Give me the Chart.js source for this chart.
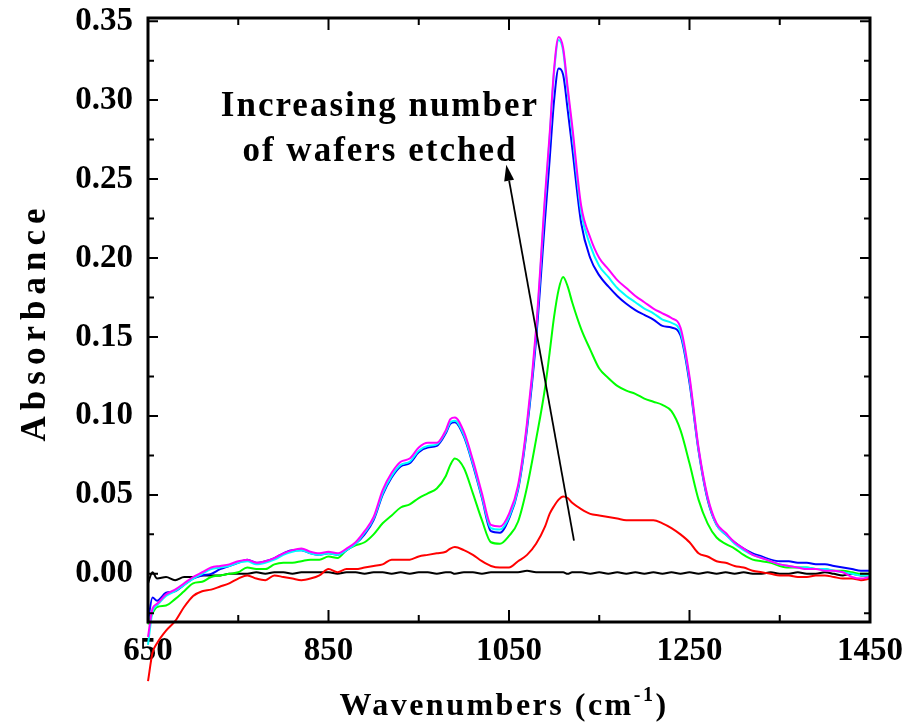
<!DOCTYPE html>
<html>
<head>
<meta charset="utf-8">
<script src="https://cdn.jsdelivr.net/npm/chart.js@4"></script>
<style>
  body { margin: 0; background: #fff; }
  canvas { display: block; }
</style>
</head>
<body>
<canvas id="irChart" width="919" height="724"></canvas>
<script>
// wavenumbers (cm-1) shared by all spectra
const wavenumbers = [650, 655, 660, 670, 680, 690, 700, 710, 720, 730, 740, 750, 760, 770, 780, 790, 800, 810, 820, 830,
  840, 850, 860, 870, 880, 890, 900, 910, 920, 930, 940, 950, 960, 970, 980, 985, 990, 1000, 1010, 1020,
  1030, 1040, 1050, 1060, 1070, 1080, 1090, 1095, 1100, 1105, 1110, 1115, 1120, 1130, 1140, 1150, 1160, 1170, 1180, 1190,
  1200, 1210, 1220, 1230, 1240, 1250, 1260, 1270, 1280, 1290, 1300, 1310, 1320, 1330, 1340, 1350, 1360, 1370, 1380, 1390,
  1400, 1410, 1420, 1430, 1440, 1450];

const magentaAbs = [-0.040, -0.022, -0.019, -0.013, -0.010, -0.006, -0.002, 0.001, 0.004, 0.005, 0.006, 0.008, 0.009, 0.007, 0.008, 0.010, 0.013, 0.015, 0.016, 0.014,
  0.013, 0.014, 0.013, 0.016, 0.020, 0.027, 0.036, 0.053, 0.064, 0.071, 0.073, 0.080, 0.083, 0.083, 0.091, 0.098, 0.099, 0.090, 0.072, 0.051,
  0.031, 0.030, 0.038, 0.056, 0.096, 0.155, 0.240, 0.278, 0.320, 0.340, 0.333, 0.308, 0.284, 0.233, 0.213, 0.200, 0.193, 0.186, 0.181, 0.176,
  0.172, 0.168, 0.165, 0.162, 0.156, 0.125, 0.080, 0.049, 0.032, 0.026, 0.020, 0.016, 0.012, 0.010, 0.008, 0.006, 0.005, 0.004, 0.003, 0.003,
  0.002, 0.002, 0.001, -0.002, -0.003, -0.002];

const cyanAbs = [-0.045, -0.024, -0.020, -0.014, -0.011, -0.007, -0.003, 0.000, 0.003, 0.004, 0.005, 0.007, 0.008, 0.006, 0.007, 0.009, 0.012, 0.014, 0.015, 0.013,
  0.012, 0.013, 0.012, 0.015, 0.019, 0.026, 0.035, 0.051, 0.062, 0.069, 0.071, 0.078, 0.081, 0.082, 0.090, 0.096, 0.097, 0.088, 0.070, 0.049,
  0.029, 0.028, 0.036, 0.054, 0.094, 0.153, 0.237, 0.276, 0.318, 0.338, 0.331, 0.305, 0.280, 0.229, 0.208, 0.195, 0.188, 0.181, 0.176, 0.172,
  0.168, 0.165, 0.161, 0.159, 0.153, 0.123, 0.079, 0.048, 0.031, 0.025, 0.019, 0.015, 0.012, 0.010, 0.008, 0.006, 0.005, 0.004, 0.004, 0.003,
  0.003, 0.002, 0.001, 0.000, -0.001, -0.001];

const blueAbs = [-0.030, -0.015, -0.017, -0.012, -0.011, -0.007, -0.003, -0.001, 0.000, 0.003, 0.005, 0.007, 0.009, 0.007, 0.008, 0.010, 0.013, 0.015, 0.015, 0.013,
  0.012, 0.013, 0.012, 0.015, 0.019, 0.025, 0.034, 0.050, 0.061, 0.068, 0.070, 0.077, 0.080, 0.081, 0.089, 0.095, 0.096, 0.087, 0.069, 0.048,
  0.027, 0.026, 0.035, 0.053, 0.092, 0.148, 0.225, 0.262, 0.300, 0.320, 0.316, 0.294, 0.270, 0.222, 0.200, 0.189, 0.182, 0.176, 0.171, 0.167,
  0.164, 0.161, 0.157, 0.156, 0.151, 0.121, 0.078, 0.047, 0.031, 0.025, 0.020, 0.016, 0.013, 0.011, 0.009, 0.008, 0.008, 0.007, 0.007, 0.006,
  0.006, 0.005, 0.004, 0.003, 0.002, 0.002];

const greenAbs = [-0.032, -0.025, -0.021, -0.020, -0.016, -0.011, -0.006, -0.005, -0.002, -0.001, 0.000, 0.001, 0.004, 0.003, 0.003, 0.006, 0.007, 0.007, 0.008, 0.009,
  0.009, 0.011, 0.010, 0.015, 0.018, 0.020, 0.025, 0.032, 0.037, 0.042, 0.044, 0.048, 0.051, 0.054, 0.062, 0.069, 0.073, 0.067, 0.051, 0.034,
  0.020, 0.019, 0.024, 0.033, 0.055, 0.085, 0.118, 0.140, 0.163, 0.180, 0.188, 0.182, 0.172, 0.155, 0.142, 0.130, 0.124, 0.119, 0.116, 0.114,
  0.111, 0.109, 0.107, 0.103, 0.091, 0.070, 0.047, 0.032, 0.023, 0.019, 0.016, 0.012, 0.009, 0.008, 0.007, 0.005, 0.004, 0.004, 0.004, 0.003,
  0.003, 0.002, 0.002, 0.001, 0.000, 0.000];

const redAbs = [-0.068, -0.050, -0.044, -0.036, -0.030, -0.021, -0.014, -0.011, -0.010, -0.008, -0.006, -0.003, -0.001, -0.003, -0.004, -0.001, -0.002, -0.003, -0.004, -0.003,
  -0.001, 0.003, 0.001, 0.003, 0.003, 0.004, 0.005, 0.006, 0.009, 0.009, 0.009, 0.011, 0.012, 0.013, 0.014, 0.016, 0.017, 0.015, 0.012, 0.008,
  0.005, 0.004, 0.004, 0.008, 0.012, 0.019, 0.030, 0.038, 0.043, 0.047, 0.049, 0.048, 0.045, 0.041, 0.038, 0.037, 0.036, 0.035, 0.034, 0.034,
  0.034, 0.034, 0.032, 0.029, 0.025, 0.020, 0.013, 0.011, 0.008, 0.007, 0.005, 0.004, 0.002, 0.001, 0.000, -0.001, -0.001, -0.002, -0.002, -0.001,
  -0.001, -0.002, -0.003, -0.003, -0.004, -0.003];

const blackAbs = [-0.006, 0.001, -0.003, -0.002, -0.004, -0.002, -0.002, -0.001, -0.001, -0.001, 0.000, 0.000, 0.000, 0.001, 0.000, 0.001, 0.001, 0.000, 0.001, 0.001,
  0.001, 0.001, 0.000, 0.001, 0.001, 0.000, 0.001, 0.001, 0.000, 0.001, 0.000, 0.001, 0.001, 0.000, 0.001, 0.001, 0.000, 0.001, 0.001, 0.000,
  0.001, 0.001, 0.001, 0.001, 0.002, 0.001, 0.001, 0.001, 0.001, 0.001, 0.001, 0.000, 0.001, 0.001, 0.000, 0.001, 0.000, 0.001, 0.000, 0.001,
  0.000, 0.001, 0.000, 0.001, 0.000, 0.001, 0.000, 0.001, 0.000, 0.001, 0.000, 0.001, 0.000, 0.000, 0.001, 0.000, 0.000, 0.001, 0.000, 0.000,
  0.001, 0.000, -0.001, 0.000, -0.001, -0.001];

// axis ticks
const xTickLabels = [650, 850, 1050, 1250, 1450];
const xMinorTicks = [750, 950, 1150, 1350];
const yTickLabels = [0, 0.05, 0.10, 0.15, 0.20, 0.25, 0.30, 0.35];
const yMinorTicks = [-0.025, 0.025, 0.075, 0.125, 0.175, 0.225, 0.275, 0.325];

// annotation (data coordinates)
const noteLines = ['Increasing number', 'of wafers etched'];
const noteAnchor = [907, 0.290];
const arrowFrom = [1122, 0.021];
const arrowTo = [1047, 0.259];

const serif = "'Liberation Serif', 'Times New Roman', serif";

function toXY(ys) {
  return wavenumbers.map((w, i) => ({ x: w, y: ys[i] }));
}

function series(data, color) {
  return {
    data: toXY(data),
    borderColor: color,
    borderWidth: 2,
    pointRadius: 0,
    cubicInterpolationMode: 'monotone',
    fill: false,
    clip: false
  };
}

const framePlugin = {
  id: 'frame',
  afterDraw(chart) {
    const { ctx, chartArea: a, scales: { x, y } } = chart;
    ctx.save();
    ctx.strokeStyle = '#000';
    ctx.lineCap = 'butt';

    // inward ticks on all four sides
    ctx.lineWidth = 2;
    ctx.beginPath();
    const xt = (v, len) => {
      const px = x.getPixelForValue(v);
      ctx.moveTo(px, a.bottom); ctx.lineTo(px, a.bottom - len);
      ctx.moveTo(px, a.top); ctx.lineTo(px, a.top + len);
    };
    const yt = (v, len) => {
      const py = y.getPixelForValue(v);
      ctx.moveTo(a.left, py); ctx.lineTo(a.left + len, py);
      ctx.moveTo(a.right, py); ctx.lineTo(a.right - len, py);
    };
    xTickLabels.forEach(v => xt(v, 12));
    xMinorTicks.forEach(v => xt(v, 7));
    yTickLabels.forEach(v => yt(v, 10));
    yMinorTicks.forEach(v => yt(v, 6));
    ctx.stroke();

    // frame
    ctx.lineWidth = 3;
    ctx.strokeRect(a.left, a.top, a.right - a.left, a.bottom - a.top);

    ctx.fillStyle = '#000';

    // y title
    ctx.save();
    ctx.font = 'bold 35px ' + serif;
    ctx.letterSpacing = '6px';
    ctx.textAlign = 'center';
    ctx.textBaseline = 'alphabetic';
    ctx.translate(45, 322);
    ctx.rotate(-Math.PI / 2);
    ctx.fillText('Absorbance', 0, 0);
    ctx.restore();

    // x title with superscript
    ctx.save();
    ctx.letterSpacing = '2.5px';
    ctx.textBaseline = 'alphabetic';
    ctx.textAlign = 'left';
    const mainFont = 'bold 32px ' + serif;
    const supFont = 'bold 20px ' + serif;
    const p1 = 'Wavenumbers (cm', p2 = '-1', p3 = ')';
    ctx.font = mainFont; const w1 = ctx.measureText(p1).width; const w3 = ctx.measureText(p3).width;
    ctx.font = supFont; const w2 = ctx.measureText(p2).width;
    let sx = (a.left + a.right) / 2 - (w1 + w2 + w3) / 2 - 5;
    const by = 715;
    ctx.font = mainFont; ctx.fillText(p1, sx, by); sx += w1;
    ctx.font = supFont; ctx.fillText(p2, sx, by - 14); sx += w2;
    ctx.font = mainFont; ctx.fillText(p3, sx, by);
    ctx.restore();

    // annotation text
    ctx.save();
    ctx.font = 'bold 35px ' + serif;
    ctx.letterSpacing = '2px';
    ctx.textAlign = 'center';
    ctx.textBaseline = 'alphabetic';
    const nx = x.getPixelForValue(noteAnchor[0]);
    const ny = y.getPixelForValue(noteAnchor[1]);
    noteLines.forEach((t, i) => ctx.fillText(t, nx, ny + i * 45));
    ctx.restore();

    // arrow
    const x0 = x.getPixelForValue(arrowFrom[0]), y0 = y.getPixelForValue(arrowFrom[1]);
    const x1 = x.getPixelForValue(arrowTo[0]), y1 = y.getPixelForValue(arrowTo[1]);
    const ang = Math.atan2(y1 - y0, x1 - x0);
    const head = 16, half = 5;
    const bx = x1 - head * Math.cos(ang), byy = y1 - head * Math.sin(ang);
    ctx.lineWidth = 1.8;
    ctx.beginPath();
    ctx.moveTo(x0, y0); ctx.lineTo(bx, byy);
    ctx.stroke();
    ctx.beginPath();
    ctx.moveTo(x1, y1);
    ctx.lineTo(bx + half * Math.sin(ang), byy - half * Math.cos(ang));
    ctx.lineTo(bx - half * Math.sin(ang), byy + half * Math.cos(ang));
    ctx.closePath();
    ctx.fill();

    ctx.restore();
  }
};

const ctx = document.getElementById('irChart').getContext('2d');
new Chart(ctx, {
  type: 'line',
  data: {
    datasets: [
      series(magentaAbs, '#ff00ff'),
      series(cyanAbs, '#00ffff'),
      series(blueAbs, '#0000ff'),
      series(greenAbs, '#00ff00'),
      series(redAbs, '#ff0000'),
      series(blackAbs, '#000000')
    ]
  },
  options: {
    responsive: false,
    animation: false,
    events: [],
    layout: { padding: { top: 18, right: 49, left: 0, bottom: 0 } },
    plugins: { legend: { display: false }, tooltip: { enabled: false } },
    scales: {
      x: {
        type: 'linear',
        min: 650,
        max: 1450,
        afterBuildTicks: s => { s.ticks = xTickLabels.map(v => ({ value: v })); },
        afterFit: s => { s.height = 102; s.paddingLeft = 0; s.paddingRight = 0; },
        grid: { display: false, drawTicks: false },
        border: { display: false },
        ticks: {
          autoSkip: false,
          maxRotation: 0,
          padding: 10,
          color: '#000',
          font: { family: serif, size: 33, weight: 'bold' },
          callback: v => String(v)
        }
      },
      y: {
        type: 'linear',
        min: -0.0305,
        max: 0.352,
        afterBuildTicks: s => { s.ticks = yTickLabels.map(v => ({ value: v })); },
        afterFit: s => { s.width = 148; s.paddingTop = 0; s.paddingBottom = 0; },
        grid: { display: false, drawTicks: false },
        border: { display: false },
        ticks: {
          autoSkip: false,
          padding: 15,
          color: '#000',
          font: { family: serif, size: 33, weight: 'bold' },
          callback: v => v.toFixed(2)
        }
      }
    }
  },
  plugins: [framePlugin]
});
</script>
</body>
</html>
